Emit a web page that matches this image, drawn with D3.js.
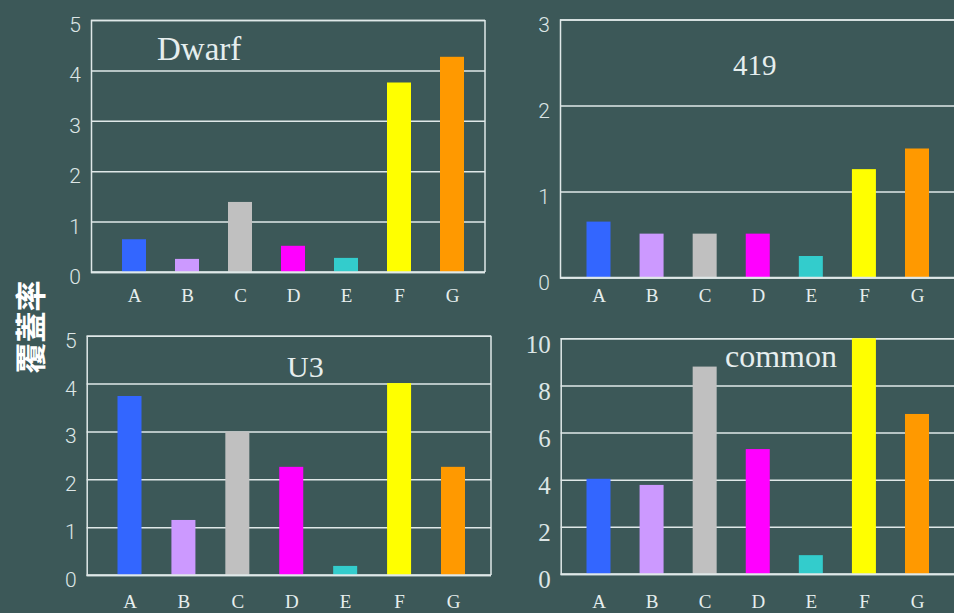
<!DOCTYPE html>
<html>
<head>
<meta charset="utf-8">
<script src="https://cdn.jsdelivr.net/npm/d3@7"></script>
<style>
  html, body { margin: 0; padding: 0; background: #3c5858; }
  svg { display: block; }
</style>
</head>
<body>
<svg id="chart" width="954" height="613"></svg>
<script>
// ---- data ----
const categories = ["A", "B", "C", "D", "E", "F", "G"];
const barColors = ["#3366ff", "#cc99ff", "#c0c0c0", "#ff00ff", "#33cccc", "#ffff00", "#ff9900"];
const yAxisLabel = "覆蓋率";

const dwarfTitle = "Dwarf";
const dwarfValues = [0.65, 0.26, 1.39, 0.52, 0.28, 3.76, 4.27];
const dwarfTicks = [0, 1, 2, 3, 4, 5];

const s419Title = "419";
const s419Values = [0.65, 0.51, 0.51, 0.51, 0.25, 1.26, 1.50];
const s419Ticks = [0, 1, 2, 3];

const u3Title = "U3";
const u3Values = [3.74, 1.15, 3.0, 2.26, 0.19, 4.01, 2.26];
const u3Ticks = [0, 1, 2, 3, 4, 5];

const commonTitle = "common";
const commonValues = [4.04, 3.78, 8.8, 5.3, 0.8, 10.0, 6.79];
const commonTicks = [0, 2, 4, 6, 8, 10];

// ---- layout (positions / styles only) ----
const serif = "'Liberation Serif', 'Times New Roman', serif";
const light = "Roboto, 'Open Sans', 'DejaVu Sans', sans-serif";
const panels = [
  { title: dwarfTitle, values: dwarfValues, ticks: dwarfTicks,
    left: 91, right: 485, top: 20, bottom: 272, xFirst: 134, xLast: 452,
    rightBorder: true, titleX: 157, titleY: 60, titleSize: 33, labelY: 302,
    tickFont: light, tickWeight: 300, tickSize: 21 },
  { title: s419Title, values: s419Values, ticks: s419Ticks,
    left: 560, right: 960, top: 19.5, bottom: 277.5, xFirst: 598.5, xLast: 917,
    rightBorder: false, titleX: 733, titleY: 75, titleSize: 29, labelY: 302,
    tickFont: light, tickWeight: 300, tickSize: 21 },
  { title: u3Title, values: u3Values, ticks: u3Ticks,
    left: 86.7, right: 491, top: 335.7, bottom: 575, xFirst: 129.5, xLast: 453,
    rightBorder: true, titleX: 287, titleY: 377, titleSize: 30, labelY: 608,
    tickFont: light, tickWeight: 300, tickSize: 21 },
  { title: commonTitle, values: commonValues, ticks: commonTicks,
    left: 560.7, right: 960, top: 338.3, bottom: 574, xFirst: 598.5, xLast: 917,
    rightBorder: false, titleX: 725, titleY: 366.5, titleSize: 32, labelY: 608,
    tickFont: serif, tickWeight: 400, tickSize: 25 }
];

const svg = d3.select("#chart");
const textColor = "#e6eeee";
const tickColor = "#dde6e6";
const gridColor = "#dfe8e8";

panels.forEach(p => {
  const yMax = d3.max(p.ticks);
  const y = d3.scaleLinear().domain([0, yMax]).range([p.bottom, p.top]);
  const x = d3.scalePoint().domain(categories).range([p.xFirst, p.xLast]).padding(0);
  const barW = 24;
  const g = svg.append("g");

  // gridlines + y tick labels via axis
  const yAxis = d3.axisLeft(y).tickValues(p.ticks).tickSize(-(p.right - p.left)).tickPadding(10).tickFormat(d3.format("d"));
  const ya = g.append("g").attr("transform", `translate(${p.left},0)`).call(yAxis)
    .attr("font-family", p.tickFont);
  ya.select(".domain").attr("stroke", gridColor).attr("stroke-width", 1.5);
  ya.selectAll(".tick line").attr("stroke", gridColor).attr("stroke-width", 1.5);
  ya.selectAll(".tick text")
    .attr("fill", tickColor)
    .style("font-family", p.tickFont)
    .style("font-weight", p.tickWeight)
    .style("font-size", p.tickSize + "px")
    .attr("dy", "0.55em");

  if (p.rightBorder) {
    g.append("line")
      .attr("x1", p.right).attr("x2", p.right)
      .attr("y1", p.top).attr("y2", p.bottom)
      .attr("stroke", gridColor).attr("stroke-width", 1.5);
  }

  // bars
  g.selectAll("rect.bar").data(p.values).join("rect")
    .attr("class", "bar")
    .attr("x", (d, i) => x(categories[i]) - barW / 2)
    .attr("width", barW)
    .attr("y", d => y(d))
    .attr("height", d => y(0) - y(d))
    .attr("fill", (d, i) => barColors[i]);

  // baseline on top of bars
  g.append("line")
    .attr("x1", p.left).attr("x2", p.right)
    .attr("y1", y(0)).attr("y2", y(0))
    .attr("stroke", gridColor).attr("stroke-width", 1.5);

  // x labels via axis (baseline at labelY)
  const xAxis = d3.axisBottom(x).tickSize(0).tickPadding(0);
  const xa = g.append("g").attr("transform", `translate(0,${p.labelY})`).call(xAxis)
    .attr("font-family", serif);
  xa.select(".domain").remove();
  xa.selectAll(".tick text")
    .attr("fill", textColor)
    .style("font-family", serif)
    .style("font-size", "19px")
    .attr("y", 0)
    .attr("dy", "0");

  // title
  g.append("text")
    .attr("x", p.titleX).attr("y", p.titleY)
    .attr("fill", textColor)
    .style("font-family", serif)
    .style("font-size", p.titleSize + "px")
    .text(p.title);
});

// y-axis label
svg.append("text")
  .attr("transform", "translate(28,327) rotate(-90)")
  .attr("text-anchor", "middle")
  .attr("dominant-baseline", "central")
  .attr("fill", "#ffffff")
  .style("font-family", "'Noto Sans CJK TC', 'Noto Sans CJK SC', sans-serif")
  .style("font-weight", "bold")
  .style("font-size", "31px")
  .text(yAxisLabel);
</script>
</body>
</html>
